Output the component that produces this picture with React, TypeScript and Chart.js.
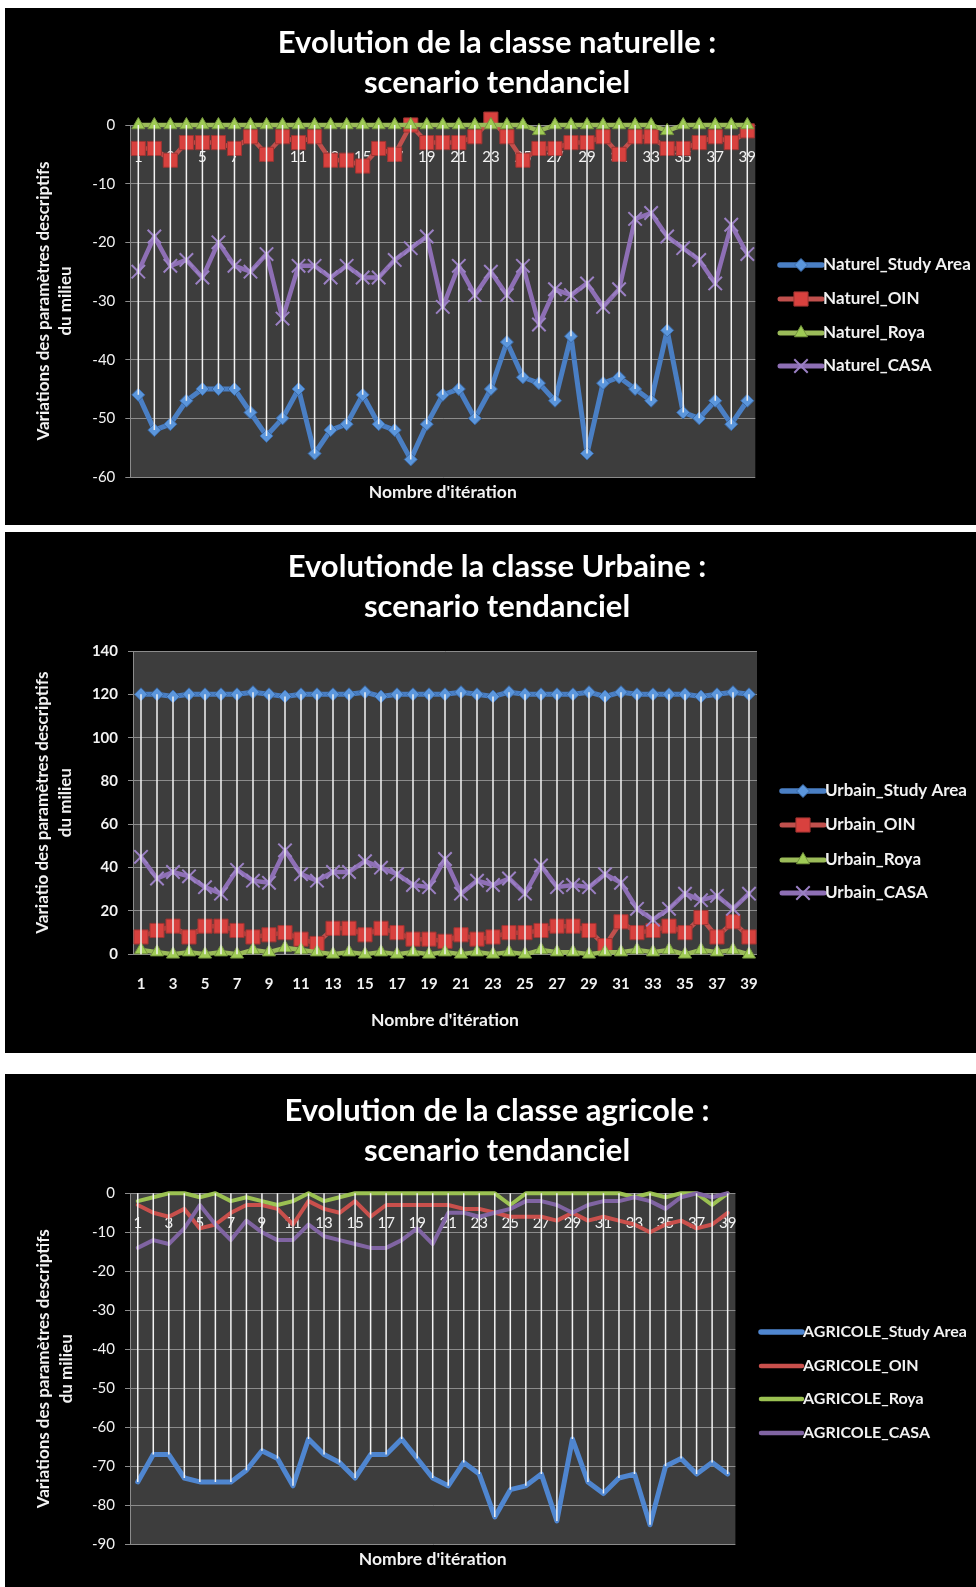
import React, { useEffect, useRef } from 'react';
import { Chart, registerables } from 'chart.js';

Chart.register(...registerables);

// ---------------- data ----------------
const ITERATIONS = ['1','2','3','4','5','6','7','8','9','10','11','12','13','14','15','16','17','18','19','20','21','22','23','24','25','26','27','28','29','30','31','32','33','34','35','36','37','38','39'];
const ITERATION_TICKS = ['1','3','5','7','9','11','13','15','17','19','21','23','25','27','29','31','33','35','37','39'];

const NAT_LABELS = ['Naturel_Study Area', 'Naturel_OIN', 'Naturel_Roya', 'Naturel_CASA'];
const NAT_STUDY = [-46,-52,-51,-47,-45,-45,-45,-49,-53,-50,-45,-56,-52,-51,-46,-51,-52,-57,-51,-46,-45,-50,-45,-37,-43,-44,-47,-36,-56,-44,-43,-45,-47,-35,-49,-50,-47,-51,-47];
const NAT_OIN = [-4,-4,-6,-3,-3,-3,-4,-2,-5,-2,-3,-2,-6,-6,-7,-4,-5,0,-3,-3,-3,-2,1,-2,-6,-4,-4,-3,-3,-2,-5,-2,-2,-4,-4,-3,-2,-3,-1];
const NAT_ROYA = [0,0,0,0,0,0,0,0,0,0,0,0,0,0,0,0,0,0,0,0,0,0,0,0,0,-1,0,0,0,0,0,0,0,-1,0,0,0,0,0];
const NAT_CASA = [-25,-19,-24,-23,-26,-20,-24,-25,-22,-33,-24,-24,-26,-24,-26,-26,-23,-21,-19,-31,-24,-29,-25,-29,-24,-34,-28,-29,-27,-31,-28,-16,-15,-19,-21,-23,-27,-17,-22];
const NAT_Y_TICKS = [0,-10,-20,-30,-40,-50,-60];

const URB_LABELS = ['Urbain_Study Area', 'Urbain_OIN', 'Urbain_Roya', 'Urbain_CASA'];
const URB_STUDY = [120,120,119,120,120,120,120,121,120,119,120,120,120,120,121,119,120,120,120,120,121,120,119,121,120,120,120,120,121,119,121,120,120,120,120,119,120,121,120];
const URB_OIN = [8,11,13,8,13,13,11,8,9,10,7,5,12,12,9,12,10,7,7,6,9,7,8,10,10,11,13,13,11,4,15,10,11,13,10,17,8,15,8];
const URB_ROYA = [2,1,0,1,0,1,0,2,1,3,2,1,0,1,0,1,0,1,0,1,0,1,0,1,0,2,1,1,0,1,1,2,1,2,0,2,1,2,0];
const URB_CASA = [45,35,38,36,31,28,39,34,33,48,37,34,38,38,43,40,37,32,31,44,28,34,32,35,28,41,31,32,31,37,33,21,16,21,28,25,27,21,28];
const URB_Y_TICKS = [0,20,40,60,80,100,120,140];

const AGR_LABELS = ['AGRICOLE_Study Area', 'AGRICOLE_OIN', 'AGRICOLE_Roya', 'AGRICOLE_CASA'];
const AGR_STUDY = [-74,-67,-67,-73,-74,-74,-74,-71,-66,-68,-75,-63,-67,-69,-73,-67,-67,-63,-68,-73,-75,-69,-72,-83,-76,-75,-72,-84,-63,-74,-77,-73,-72,-85,-70,-68,-72,-69,-72];
const AGR_OIN = [-3,-5,-6,-4,-9,-8,-5,-3,-3,-4,-8,-2,-4,-5,-2,-6,-3,-3,-3,-3,-3,-4,-4,-5,-6,-6,-6,-7,-5,-7,-6,-7,-8,-10,-8,-7,-9,-8,-5];
const AGR_ROYA = [-2,-1,0,0,-1,0,-2,-1,-2,-3,-2,0,-2,-1,0,0,0,0,0,0,0,0,0,0,-3,0,0,0,0,0,0,0,-1,0,-1,0,0,-3,0];
const AGR_CASA = [-14,-12,-13,-9,-3,-8,-12,-7,-10,-12,-12,-8,-11,-12,-13,-14,-14,-12,-9,-13,-5,-5,-6,-5,-4,-2,-2,-3,-5,-3,-2,-2,-1,-2,-4,-1,0,-1,0];
const AGR_Y_TICKS = [0,-10,-20,-30,-40,-50,-60,-70,-80,-90];

// ---------------- styles ----------------
const FONT = "Lato, 'Open Sans', sans-serif";
const TEXT = '#f2f2f2';
const GRID = '#8c8c8c';
const PLOT_BG = '#3d3d3d';
const DROP = '#f4f4f4';
const CANVAS_LEFT = 18;
const CANVAS_W = 958;

type Series = {
  label: string; data: number[]; color: string; width: number;
  pointStyle: string | false; radius: number; fill: string; stroke: string; pbw: number;
};

type Panel = {
  top: number; height: number;
  title: string[]; titlePadTop: number; titlePadBottom: number;
  yTitle: string[]; yTitlePadTop: number; yTitleLH: number;
  yTicks: number[];
  plotLeft: number; rightReserve: number; xAxisHeight: number; xTitlePadBottom: number;
  labelsAtZero: boolean; xLabelPad: number; tickBold: boolean;
  legendYs: number[]; legendLine: [number, number]; legendTextX: number; legendFont: number;
  series: Series[];
};

function markerSeries(labels: string[], d: number[][]): Series[] {
  return [
    { label: labels[0], data: d[0], color: '#4a7fc4', width: 5, pointStyle: 'rectRot', radius: 6.5, fill: '#5b96dc', stroke: '#3a6aa8', pbw: 1 },
    { label: labels[1], data: d[1], color: '#c0504d', width: 4.5, pointStyle: 'rect', radius: 10, fill: '#d8413e', stroke: '#9e3432', pbw: 1 },
    { label: labels[2], data: d[2], color: '#9bbb59', width: 4.5, pointStyle: 'triangle', radius: 7.5, fill: '#9fcb55', stroke: '#76973e', pbw: 1 },
    { label: labels[3], data: d[3], color: '#8e6fb5', width: 4.5, pointStyle: 'crossRot', radius: 9.5, fill: '#9b80c4', stroke: '#9b80c4', pbw: 2 },
  ];
}

function lineSeries(labels: string[], d: number[][]): Series[] {
  return [
    { label: labels[0], data: d[0], color: '#4f86d0', width: 5, pointStyle: false, radius: 0, fill: '', stroke: '', pbw: 0 },
    { label: labels[1], data: d[1], color: '#c9504c', width: 4, pointStyle: false, radius: 0, fill: '', stroke: '', pbw: 0 },
    { label: labels[2], data: d[2], color: '#9bc152', width: 4, pointStyle: false, radius: 0, fill: '', stroke: '', pbw: 0 },
    { label: labels[3], data: d[3], color: '#8064a2', width: 4, pointStyle: false, radius: 0, fill: '', stroke: '', pbw: 0 },
  ];
}

const PANELS: Panel[] = [
  {
    top: 8, height: 517,
    title: ['Evolution de la classe naturelle :', 'scenario tendanciel'], titlePadTop: 15, titlePadBottom: 22,
    yTitle: ['Variations des paramètres descriptifs', 'du milieu'], yTitlePadTop: 15, yTitleLH: 22,
    yTicks: NAT_Y_TICKS,
    plotLeft: 112.3, rightReserve: 220.7, xAxisHeight: 48, xTitlePadBottom: 22.5,
    labelsAtZero: true, xLabelPad: 23, tickBold: false,
    legendYs: [257, 291, 325, 358], legendLine: [762, 804], legendTextX: 805, legendFont: 17,
    series: markerSeries(NAT_LABELS, [NAT_STUDY, NAT_OIN, NAT_ROYA, NAT_CASA]),
  },
  {
    top: 532, height: 521,
    title: ['Evolutionde la classe Urbaine :', 'scenario tendanciel'], titlePadTop: 15, titlePadBottom: 24,
    yTitle: ['Variatio des paramètres descriptifs', 'du milieu'], yTitlePadTop: 12.75, yTitleLH: 23.5,
    yTicks: URB_Y_TICKS,
    plotLeft: 115, rightReserve: 219, xAxisHeight: 98.7, xTitlePadBottom: 22.5,
    labelsAtZero: false, xLabelPad: 20.7, tickBold: true,
    legendYs: [259, 293, 328, 361], legendLine: [764, 806], legendTextX: 807, legendFont: 17,
    series: markerSeries(URB_LABELS, [URB_STUDY, URB_OIN, URB_ROYA, URB_CASA]),
  },
  {
    top: 1074, height: 513,
    title: ['Evolution de la classe agricole :', 'scenario tendanciel'], titlePadTop: 17, titlePadBottom: 22.3,
    yTitle: ['Variations des paramètres descriptifs', 'du milieu'], yTitlePadTop: 14.5, yTitleLH: 22.5,
    yTicks: AGR_Y_TICKS,
    plotLeft: 112, rightReserve: 240.6, xAxisHeight: 42.7, xTitlePadBottom: 17.5,
    labelsAtZero: true, xLabelPad: 21, tickBold: false,
    legendYs: [258, 292, 325, 359], legendLine: [743, 784], legendTextX: 785, legendFont: 16,
    series: lineSeries(AGR_LABELS, [AGR_STUDY, AGR_OIN, AGR_ROYA, AGR_CASA]),
  },
];

// ---------------- helpers ----------------
function drawMarker(ctx: CanvasRenderingContext2D, s: Series, x: number, y: number) {
  if (!s.pointStyle || s.radius <= 0) return;
  const r = s.radius;
  ctx.save();
  ctx.beginPath();
  if (s.pointStyle === 'rectRot') {
    ctx.moveTo(x - r, y); ctx.lineTo(x, y - r); ctx.lineTo(x + r, y); ctx.lineTo(x, y + r); ctx.closePath();
  } else if (s.pointStyle === 'rect') {
    const h = r * Math.SQRT1_2; ctx.rect(x - h, y - h, 2 * h, 2 * h);
  } else if (s.pointStyle === 'triangle') {
    ctx.moveTo(x, y - r);
    ctx.lineTo(x + Math.sin(2 * Math.PI / 3) * r, y + r / 2);
    ctx.lineTo(x - Math.sin(2 * Math.PI / 3) * r, y + r / 2);
    ctx.closePath();
  } else if (s.pointStyle === 'crossRot') {
    const h = r * Math.SQRT1_2;
    ctx.moveTo(x - h, y - h); ctx.lineTo(x + h, y + h);
    ctx.moveTo(x + h, y - h); ctx.lineTo(x - h, y + h);
  }
  ctx.fillStyle = s.fill; ctx.strokeStyle = s.stroke; ctx.lineWidth = s.pbw;
  if (s.pointStyle !== 'crossRot') ctx.fill();
  ctx.stroke();
  ctx.restore();
}

const plotBg = {
  id: 'plotBg',
  beforeDraw(chart: any) {
    const { ctx, chartArea: a } = chart;
    ctx.save();
    ctx.fillStyle = PLOT_BG;
    ctx.fillRect(a.left, a.top, a.right - a.left, a.bottom - a.top);
    ctx.restore();
  },
};

const dropLines = {
  id: 'dropLines',
  afterDatasetsDraw(chart: any) {
    const ctx = chart.ctx;
    const y0 = chart.scales.y.getPixelForValue(0);
    const n = chart.data.labels.length;
    ctx.save();
    ctx.strokeStyle = DROP;
    ctx.lineWidth = 1.5;
    for (let i = 0; i < n; i++) {
      let far = y0;
      let x: number | null = null;
      chart.data.datasets.forEach((_: any, di: number) => {
        const pt = chart.getDatasetMeta(di).data[i];
        if (!pt) return;
        x = pt.x;
        if (Math.abs(pt.y - y0) > Math.abs(far - y0)) far = pt.y;
      });
      if (x === null) continue;
      ctx.beginPath();
      ctx.moveTo(x, y0);
      ctx.lineTo(x, far);
      ctx.stroke();
    }
    ctx.restore();
  },
};

function legendPlugin(p: Panel) {
  return {
    id: 'customLegend',
    afterDraw(chart: any) {
      const ctx: CanvasRenderingContext2D = chart.ctx;
      p.series.forEach((s, i) => {
        const y = p.legendYs[i];
        ctx.save();
        ctx.strokeStyle = s.color;
        ctx.lineWidth = s.width + 0.5;
        ctx.lineCap = 'round';
        ctx.beginPath();
        ctx.moveTo(p.legendLine[0], y);
        ctx.lineTo(p.legendLine[1], y);
        ctx.stroke();
        ctx.restore();
        drawMarker(ctx, s, (p.legendLine[0] + p.legendLine[1]) / 2, y);
        ctx.save();
        ctx.fillStyle = TEXT;
        ctx.font = `bold ${p.legendFont}px ${FONT}`;
        ctx.textBaseline = 'middle';
        ctx.textAlign = 'left';
        ctx.fillText(s.label, p.legendTextX, y);
        ctx.restore();
      });
    },
  };
}

const oddLabel = (_v: any, idx: number) => (ITERATION_TICKS.includes(ITERATIONS[idx]) ? ITERATIONS[idx] : '');

function buildConfig(p: Panel): any {
  const tickFont = { family: FONT, size: 15, weight: p.tickBold ? 'bold' : 'normal', lineHeight: 1.2 };
  const yMin = Math.min(...p.yTicks);
  const yMax = Math.max(...p.yTicks);
  const scales: any = {
    x: {
      type: 'category', position: 'bottom', offset: true,
      grid: { display: false, drawTicks: false },
      border: { display: false },
      ticks: p.labelsAtZero
        ? { display: false }
        : { display: true, autoSkip: false, maxRotation: 0, minRotation: 0, padding: p.xLabelPad, color: TEXT, font: tickFont, callback: oddLabel },
      title: {
        display: true, text: "Nombre d'itération", color: TEXT,
        font: { family: FONT, size: 17.5, weight: 'bold', lineHeight: 1.2 },
        padding: { top: 0, bottom: p.xTitlePadBottom },
      },
      afterFit: (s: any) => { s.height = p.xAxisHeight; },
    },
    y: {
      type: 'linear', position: 'left', min: yMin, max: yMax,
      afterBuildTicks: (s: any) => { s.ticks = p.yTicks.map((v) => ({ value: v })); },
      grid: { color: GRID, lineWidth: 1, tickLength: 5, drawTicks: true },
      border: { display: true, color: GRID, width: 1 },
      ticks: { color: TEXT, font: tickFont, padding: 10 },
      title: {
        display: true, text: p.yTitle, color: TEXT,
        font: { family: FONT, size: 17, weight: 'bold', lineHeight: p.yTitleLH / 17 },
        padding: { top: p.yTitlePadTop, bottom: 0 },
      },
      afterFit: (s: any) => { s.width = p.plotLeft; },
    },
    yr: {
      type: 'linear', position: 'right', display: true,
      grid: { display: false, drawTicks: false },
      border: { display: false },
      ticks: { display: false },
      title: { display: false },
      afterFit: (s: any) => { s.width = p.rightReserve; },
    },
  };
  if (p.labelsAtZero) {
    scales.x2 = {
      type: 'category', axis: 'x', labels: ITERATIONS, offset: true, position: { y: 0 },
      grid: { display: false, drawTicks: false },
      border: { display: false },
      ticks: { autoSkip: false, maxRotation: 0, minRotation: 0, padding: p.xLabelPad, color: TEXT, font: tickFont, callback: oddLabel },
      title: { display: false },
      afterFit: (s: any) => { s.height = 0; },
    };
  }
  const datasets = p.series.map((s, i) => ({
    label: s.label,
    data: s.data,
    xAxisID: 'x',
    yAxisID: 'y',
    order: 4 - i,
    borderColor: s.color,
    backgroundColor: s.color,
    borderWidth: s.width,
    borderJoinStyle: 'round',
    borderCapStyle: 'round',
    tension: 0,
    fill: false,
    clip: false,
    pointStyle: s.pointStyle || 'circle',
    pointRadius: s.radius,
    pointHoverRadius: s.radius,
    pointBackgroundColor: s.fill,
    pointBorderColor: s.stroke,
    pointBorderWidth: s.pbw,
  }));
  return {
    type: 'line',
    data: { labels: ITERATIONS, datasets },
    options: {
      responsive: false,
      animation: false,
      events: [],
      layout: { padding: 0 },
      scales,
      plugins: {
        legend: { display: false },
        tooltip: { enabled: false },
        title: {
          display: true, text: p.title, color: '#ffffff',
          font: { family: FONT, size: 31, weight: 'bold', lineHeight: 40 / 31 },
          padding: { top: p.titlePadTop, bottom: p.titlePadBottom },
        },
      },
    },
    plugins: [plotBg, dropLines, legendPlugin(p)],
  };
}

function ChartPanel({ p }: { p: Panel }) {
  const ref = useRef<HTMLCanvasElement | null>(null);
  useEffect(() => {
    if (!ref.current) return;
    const chart = new Chart(ref.current, buildConfig(p));
    return () => chart.destroy();
  }, [p]);
  return (
    <>
      <div style={{ position: 'absolute', left: 5, top: p.top, width: 971, height: p.height, background: '#000' }} />
      <canvas
        ref={ref}
        width={CANVAS_W}
        height={p.height}
        style={{ position: 'absolute', left: CANVAS_LEFT, top: p.top, width: CANVAS_W, height: p.height }}
      />
    </>
  );
}

export default function App() {
  return (
    <div style={{ position: 'absolute', left: 0, top: 0, width: 976, height: 1587, background: '#ffffff', overflow: 'hidden' }}>
      {PANELS.map((p, i) => (
        <ChartPanel key={i} p={p} />
      ))}
    </div>
  );
}
